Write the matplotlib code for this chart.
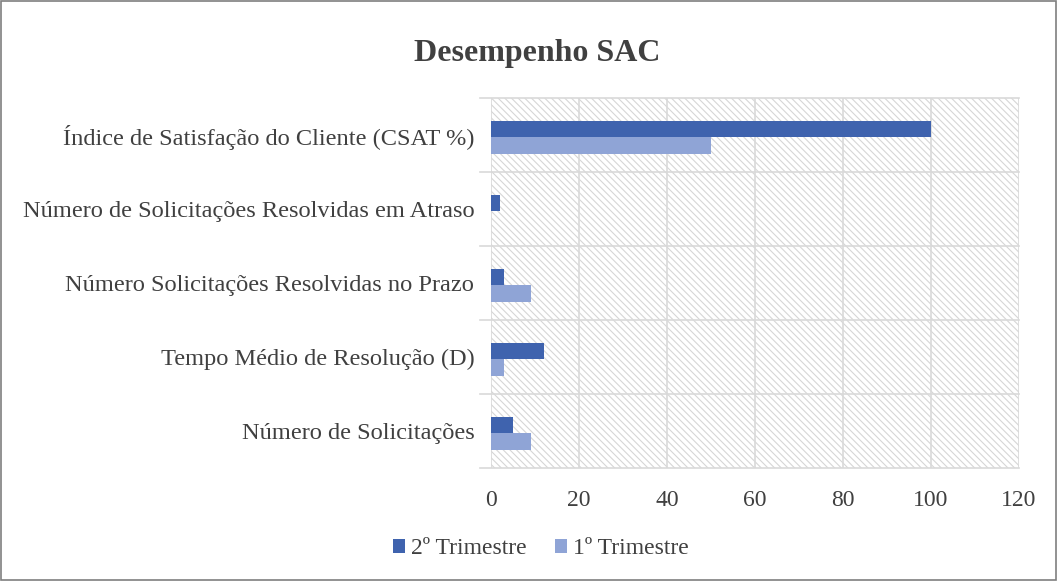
import matplotlib.pyplot as plt
import numpy as np
from matplotlib.patches import Rectangle

# dados
categorias = ["Número de Solicitações", "Tempo Médio de Resolução (D)",
              "Número Solicitações Resolvidas no Prazo",
              "Número de Solicitações Resolvidas em Atraso",
              "Índice de Satisfação do Cliente (CSAT %)"]
tri2 = [5, 12, 3, 2, 100]
tri1 = [9, 3, 9, 0, 50]
series = ["2º Trimestre", "1º Trimestre"]
cores = ["#3F63AE", "#8FA4D6"]
xticks = [0, 20, 40, 60, 80, 100, 120]

plt.rcParams['font.family'] = ['Liberation Serif', 'DejaVu Serif']
plt.rcParams['hatch.linewidth'] = 0.8
plt.rcParams['hatch.color'] = "#D6D6D6"

fig = plt.figure(figsize=(10.57, 5.81), dpi=100)
ax = fig.add_axes([491/1057, 1 - 468/581, (1019-491)/1057, (468-98)/581])

# fundo hachurado
bg = Rectangle((0, 0), 1, 1, transform=ax.transAxes, facecolor="white",
               edgecolor="#D6D6D6", hatch="\\" * 5, linewidth=0, zorder=0)
ax.add_patch(bg)

y = np.arange(len(categorias))
h = 0.225
ax.barh(y + h/2 - 0.03, tri2, height=h, color=cores[0], label=series[0], zorder=3)
ax.barh(y - h/2 - 0.03, tri1, height=h, color=cores[1], label=series[1], zorder=3)

ax.set_xlim(0, 120)
ax.set_ylim(-0.5, len(categorias) - 0.5)
ax.set_xticks(xticks)
ax.set_yticks(y)
ax.set_yticklabels(categorias)
ax.tick_params(axis='both', length=0, labelsize=17, labelcolor="#404040")
ax.tick_params(axis='y', labelsize=17.6, pad=12)
ax.tick_params(axis='x', pad=16)

for v in xticks:
    ax.axvline(v, color="#D9D9D9", linewidth=1.2, zorder=1)
for b in np.arange(-0.5, len(categorias), 1.0):
    ax.plot([-0.02, 1], [b, b], transform=ax.get_yaxis_transform(),
            color="#D9D9D9", linewidth=1.2, zorder=1, clip_on=False)
for s in ax.spines.values():
    s.set_visible(False)

fig.text(537/1057, 1 - 53/581, "Desempenho SAC", ha="center", va="center",
         fontsize=23, fontweight="bold", color="#404040")

handles, labels = ax.get_legend_handles_labels()
fig.legend(handles, labels, loc="center", bbox_to_anchor=(541/1057, 1 - 549/581),
           ncol=2, frameon=False, fontsize=17, handlelength=0.5, handleheight=0.5,
           handletextpad=0.25, columnspacing=1.2, labelcolor="#404040")

# borda da figura
fig.patches.append(Rectangle((0.001, 0.001), 0.998, 0.998, transform=fig.transFigure,
                             fill=False, edgecolor="#7F7F7F", linewidth=1.2))

fig.savefig("out.png", dpi=100)
